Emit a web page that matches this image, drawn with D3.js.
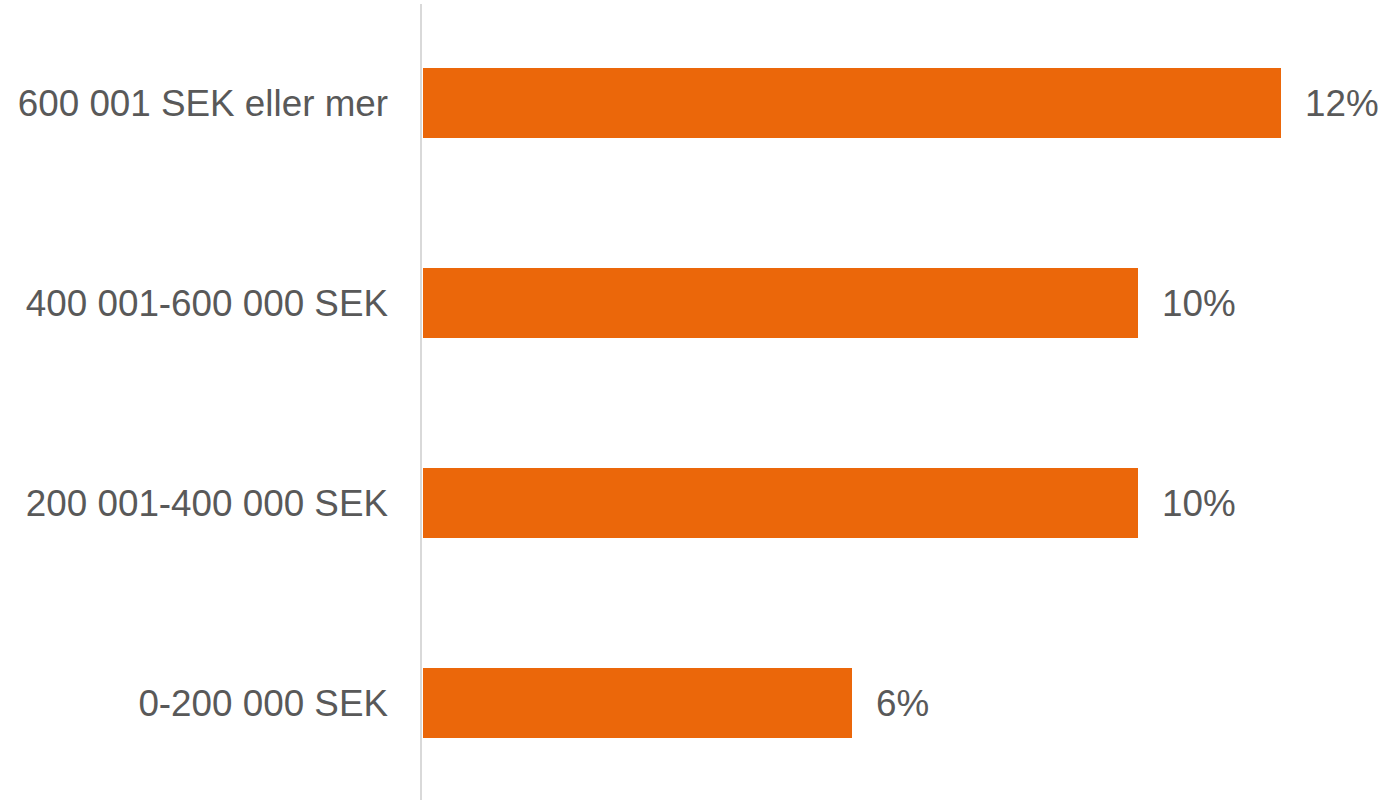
<!DOCTYPE html>
<html>
<head>
<meta charset="utf-8">
<script src="https://cdn.jsdelivr.net/npm/d3@7"></script>
<style>
  body { margin: 0; background: #fff; }
  text { font-family: "Liberation Sans", Arial, sans-serif; }
</style>
</head>
<body>
<script>
// categories, top to bottom
const categories = ["600 001 SEK eller mer", "400 001-600 000 SEK", "200 001-400 000 SEK", "0-200 000 SEK"];
const values = [12, 10, 10, 6];
const valueLabels = ["12%", "10%", "10%", "6%"];

const width = 1385, height = 800;
const x0 = 423;

const svg = d3.select(document.body)
  .append('svg')
  .attr('width', width)
  .attr('height', height);

const x = d3.scaleLinear().domain([0, 12]).range([x0, 1281]);
const y = d3.scaleBand()
  .domain(categories)
  .range([3, 803])
  .paddingInner(0.65)
  .paddingOuter(0.325);

// bars
svg.selectAll('rect.bar')
  .data(categories)
  .join('rect')
  .attr('class', 'bar')
  .attr('x', x(0))
  .attr('y', d => y(d))
  .attr('width', (d, i) => x(values[i]) - x(0))
  .attr('height', y.bandwidth())
  .attr('fill', '#EB670A');

// vertical axis line
svg.append('line')
  .attr('x1', x0 - 2).attr('x2', x0 - 2)
  .attr('y1', 4).attr('y2', height)
  .attr('stroke', '#d9d9d9')
  .attr('stroke-width', 2);

// category labels
svg.selectAll('text.cat')
  .data(categories)
  .join('text')
  .attr('class', 'cat')
  .attr('x', 388)
  .attr('y', d => y(d) + y.bandwidth() / 2)
  .attr('dy', '0.35em')
  .attr('text-anchor', 'end')
  .attr('font-size', 36.8)
  .attr('fill', '#595959')
  .text(d => d);

// value labels
svg.selectAll('text.val')
  .data(categories)
  .join('text')
  .attr('class', 'val')
  .attr('x', (d, i) => x(values[i]) + 24)
  .attr('y', d => y(d) + y.bandwidth() / 2)
  .attr('dy', '0.35em')
  .attr('font-size', 36.8)
  .attr('fill', '#595959')
  .text((d, i) => valueLabels[i]);
</script>
</body>
</html>
